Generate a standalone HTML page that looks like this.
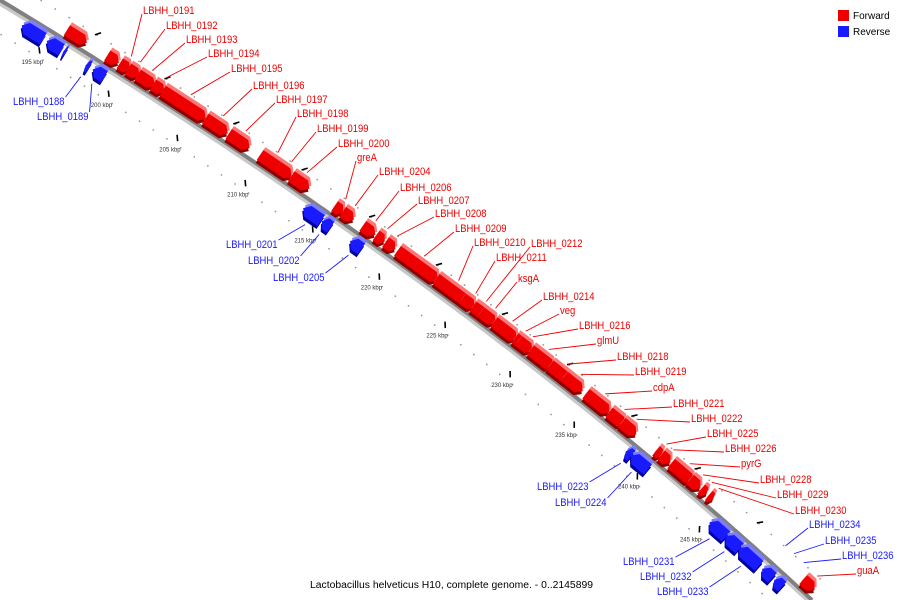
<!DOCTYPE html>
<html><head><meta charset="utf-8"><style>
html,body{margin:0;padding:0;background:#fff;width:900px;height:600px;overflow:hidden;}
svg{display:block;font-family:"Liberation Sans",sans-serif;overflow:hidden;}
</style></head><body>
<svg id="chart" width="900" height="600" viewBox="0 0 900 600">
<g id="dots"></g>
<g id="ticks"></g>
<g id="backbone"></g>
<g id="genes"></g>
<g id="labels"></g>
<g>
<rect x="838" y="10" width="11" height="11" fill="#ee0000"/>
<text x="853" y="19" font-size="10" fill="#000">Forward</text>
<rect x="838" y="26" width="11" height="11" fill="#1a1aff"/>
<text x="853" y="35" font-size="10" fill="#000">Reverse</text>
</g>
<text x="310" y="588" font-size="10" textLength="283" lengthAdjust="spacingAndGlyphs" fill="#000">Lactobacillus helveticus H10, complete genome. - 0..2145899</text>
</svg>
<script>
// ---- data (kbp) ----
const fwdStart = [195.7,198.6,199.5,200.1,200.8,201.9,202.6,205.7,207.4,209.7,211.0,212.0,215.2,215.8,217.3,218.3,219.0,219.9,222.8,224.8,225.6,226.2,227.2,228.8,229.1,230.0,231.5,232.6,234.3,236.1,237.1,239.8,240.2,241.0,242.5,243.4,244.0,251.7];
const fwdEnd   = [197.3,199.6,200.4,201.1,202.2,202.9,205.9,207.5,209.1,211.5,212.2,213.5,216.0,216.8,218.4,219.1,219.9,223.1,225.3,225.9,226.7,227.5,229.1,229.5,230.3,231.9,233.3,234.2,236.3,237.5,238.4,240.4,241.1,242.9,243.5,244.0,244.5,252.8];
const fwdLabel = ["","","LBHH_0191","LBHH_0192","LBHH_0193","LBHH_0194","LBHH_0195","LBHH_0196","LBHH_0197","LBHH_0198","LBHH_0199","LBHH_0200","greA","LBHH_0204","LBHH_0206","LBHH_0207","LBHH_0208","LBHH_0209","LBHH_0210","LBHH_0211","LBHH_0212","ksgA","LBHH_0214","veg","LBHH_0216","glmU","LBHH_0218","LBHH_0219","cdpA","LBHH_0221","LBHH_0222","LBHH_0225","LBHH_0226","pyrG","LBHH_0228","LBHH_0229","LBHH_0230","guaA"];
const revStart = [193.2,195.0,196.2,197.8,198.3,213.7,215.1,217.2,238.4,238.8,245.1,246.4,247.5,249.4,250.4];
const revEnd   = [194.9,196.2,196.5,198.2,199.3,215.2,215.9,218.2,239.0,240.3,246.6,247.7,249.3,250.4,251.2];
const revLabel = ["","","","LBHH_0188","LBHH_0189","LBHH_0201","LBHH_0202","LBHH_0205","LBHH_0223","LBHH_0224","LBHH_0231","LBHH_0232","LBHH_0233","",""];
const noteLabel = ["LBHH_0234","LBHH_0235","LBHH_0236"];
const noteKbp = [249.6,250.3,251.1];
const tickKbp = [195,200,205,210,215,220,225,230,235,240,245];
const tickText = ["195 kbp","200 kbp","205 kbp","210 kbp","215 kbp","220 kbp","225 kbp","230 kbp","235 kbp","240 kbp","245 kbp"];
// ---- label layout (text positions) ----
const labelPos = {
"LBHH_0191":[143,10],"LBHH_0192":[166,25],"LBHH_0193":[186,39],"LBHH_0194":[208,53],"LBHH_0195":[231,68],
"LBHH_0196":[253,85],"LBHH_0197":[276,99],"LBHH_0198":[297,113],"LBHH_0199":[317,128],"LBHH_0200":[338,143],
"greA":[357,157],"LBHH_0204":[379,171],"LBHH_0206":[400,187],"LBHH_0207":[418,200],"LBHH_0208":[435,213],
"LBHH_0209":[455,228],"LBHH_0210":[474,242],"LBHH_0212":[531,243],"LBHH_0211":[496,257],"ksgA":[518,278],
"LBHH_0214":[543,296],"veg":[560,310],"LBHH_0216":[579,325],"glmU":[597,340],"LBHH_0218":[617,356],
"LBHH_0219":[635,371],"cdpA":[653,387],"LBHH_0221":[673,403],"LBHH_0222":[691,418],"LBHH_0225":[707,433],
"LBHH_0226":[725,448],"pyrG":[741,463],"LBHH_0228":[760,479],"LBHH_0229":[777,494],"LBHH_0230":[795,510],
"guaA":[857,570],
"LBHH_0188":[13,101],"LBHH_0189":[37,116],"LBHH_0201":[226,244],"LBHH_0202":[248,260],"LBHH_0205":[273,277],
"LBHH_0223":[537,486],"LBHH_0224":[555,502],"LBHH_0231":[623,561],"LBHH_0232":[640,576],"LBHH_0233":[657,591],
"LBHH_0234":[809,524],"LBHH_0235":[825,540],"LBHH_0236":[842,555]};

const NS="http://www.w3.org/2000/svg";
function mk(tag,attrs,parent){const e=document.createElementNS(NS,tag);for(const k in attrs)e.setAttribute(k,attrs[k]);parent.appendChild(e);return e;}
const A=[0,0],C=[474,286],B=[812,600];
function bez(t){const u=1-t;return [u*u*A[0]+2*u*t*C[0]+t*t*B[0],u*u*A[1]+2*u*t*C[1]+t*t*B[1]];}
const N=2000,tab=[0];let prev=bez(0);
for(let i=1;i<=N;i++){const p=bez(i/N);tab.push(tab[i-1]+Math.hypot(p[0]-prev[0],p[1]-prev[1]));prev=p;}
const K0=195,S0=60,PX=16.4;
function tOfKbp(k){const s=S0+(k-K0)*PX;let lo=0,hi=N;while(hi-lo>1){const m=(lo+hi)>>1;if(tab[m]<s)lo=m;else hi=m;}
 const f=(s-tab[lo])/((tab[hi]-tab[lo])||1);return (lo+f)/N;}
function frame(k){const t=tOfKbp(k),p=bez(t),u=1-t;
 const dx=2*u*(C[0]-A[0])+2*t*(B[0]-C[0]),dy=2*u*(C[1]-A[1])+2*t*(B[1]-C[1]);const L=Math.hypot(dx,dy);
 return {p:p,d:[dx/L,dy/L],n:[-dy/L,dx/L]};}
function pt(k,off){const f=frame(k);return [f.p[0]+f.n[0]*off,f.p[1]+f.n[1]*off];}

const bb=document.getElementById('backbone');
let dpath="";for(let i=0;i<=200;i++){const p=bez(i/200);dpath+=(i?"L":"M")+p[0].toFixed(1)+","+p[1].toFixed(1);}
const sh=mk('path',{d:dpath,stroke:"#c8c8c8",'stroke-width':6,fill:"none",transform:"translate(-1,2)"},bb);

const ln=mk('path',{d:dpath,stroke:"#808080",'stroke-width':4,fill:"none"},bb);


const dg=document.getElementById('dots');
for(let k=192;k<=252;k++){
 [[-21],[29]].forEach(o=>{const p=pt(k+0.5,o[0]);const c=mk('circle',{cx:p[0],cy:p[1],r:0.9,fill:"#999"},dg);
 });
}
const tg=document.getElementById('ticks');
tickKbp.forEach((k,i)=>{
 const f=frame(k),a=pt(k,20),b=pt(k,25);
 const l=mk('line',{x1:a[0]+f.d[0]*-2,y1:a[1]+f.d[1]*-2,x2:b[0]+f.d[0]*2,y2:b[1]+f.d[1]*2,stroke:"#000",'stroke-width':1.6},tg);
 
 const lp=pt(k,36);const tx=mk('text',{x:lp[0],y:lp[1]+2,'font-size':6,'text-anchor':'middle',fill:"#333"},tg);
 tx.textContent=tickText[i];
 
 const f2=frame(k+2.5),c=pt(k+2.5,-20),e=pt(k+2.5,-25);
 const l2=mk('line',{x1:c[0]-f2.d[0]*2,y1:c[1]-f2.d[1]*2,x2:e[0]+f2.d[0]*2,y2:e[1]+f2.d[1]*2,stroke:"#000",'stroke-width':1.6},tg);
 
});

const gg=document.getElementById('genes');
function geneShape(k1,k2,o1,o2,forward){
 const w=k2-k1,head=Math.min(0.35,w*0.4),om=(o1+o2)/2;
 let pts;
 if(forward){pts=[pt(k1,o1),pt(k2-head,o1),pt(k2,om),pt(k2-head,o2),pt(k1,o2)];}
 else{pts=[pt(k2,o1),pt(k1+head,o1),pt(k1,om),pt(k1+head,o2),pt(k2,o2)];}
 return pts.map(p=>p[0].toFixed(1)+","+p[1].toFixed(1)).join(" ");
}
const anchors={};
function drawGene(k1,k2,fwd,name){
 const o1=fwd?-3:4,o2=fwd?-15:17;
 const a1=k1+0.08,a2=k2-0.08;
 const g=mk('g',{},gg);
 
 
 const s=geneShape(a1,a2,o1,o2,fwd);
 const c=fwd?["#8e0000","#ff7777","#ee0000"]:["#00009a","#7d7dff","#1a1aff"];
 const p1=mk('polygon',{points:s,fill:c[0],transform:"translate(-1,3)"},g);
 
 const p2=mk('polygon',{points:s,fill:c[1],transform:"translate(2,-3)"},g);
 
 const p3=mk('polygon',{points:s,fill:c[2]},g);
 
 if(name)anchors[name]=pt((k1+k2)/2,fwd?-21:23);
}
fwdStart.forEach((s,i)=>drawGene(s,fwdEnd[i],true,fwdLabel[i]));
revStart.forEach((s,i)=>drawGene(s,revEnd[i],false,revLabel[i]));
noteLabel.forEach((n,i)=>{anchors[n]=pt(noteKbp[i],-22);});

const lg=document.getElementById('labels');
Object.keys(anchors).forEach(name=>{
 const lp=labelPos[name];if(!lp)return;
 const isRev=revLabel.indexOf(name)>=0||noteLabel.indexOf(name)>=0;
 const col=isRev?"#1a1aff":"#ee0000";
 const t=mk('text',{x:lp[0],y:lp[1]+4,'font-size':11,fill:col},lg);
 t.textContent=name;
 
 let w=t.getComputedTextLength()*0.86;
 t.setAttribute('textLength',w.toFixed(1));t.setAttribute('lengthAdjust','spacingAndGlyphs');
 const a=anchors[name];
 let sx,sy;
 const leftSide=revLabel.indexOf(name)>=0;
 if(leftSide){sx=lp[0]+w+1;sy=lp[1]-4;}else{sx=lp[0]-1;sy=lp[1]+4;}
 const l=mk('line',{x1:sx,y1:sy,x2:a[0],y2:a[1],stroke:col,'stroke-width':0.9},lg);
 
});
</script>
</body></html>
